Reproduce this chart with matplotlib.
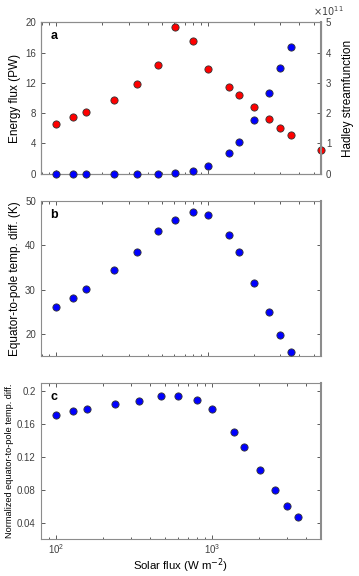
import numpy as np
import matplotlib
matplotlib.use("Agg")
import matplotlib.pyplot as plt
from matplotlib.ticker import LogLocator, NullFormatter

plt.rcParams['font.family'] = ['Liberation Sans', 'DejaVu Sans']

# --- data ---
solar = [100, 129, 158, 239, 338, 468, 602, 796, 1000, 1375, 1600, 2010, 2512, 2994, 3537]
solar_a_red = solar + [5560]

energy_flux = [6.6, 7.5, 8.15, 9.75, 11.85, 14.35, 19.35, 17.6, 13.8, 11.5, 10.45,
               8.8, 7.2, 6.0, 5.1, 3.1]            # PW (red)
hadley = [0.0, 0.0, 0.0, 0.0, 0.0, 0.0, 0.02, 0.09, 0.25, 0.69, 1.06,
          1.76, 2.65, 3.48, 4.18]                  # x1e11 (blue)
temp_diff = [26.0, 28.2, 30.2, 34.4, 38.4, 43.2, 45.7, 47.4, 46.7, 42.2, 38.4,
             31.5, 24.9, 19.8, 16.0]
norm_diff = [0.171, 0.1756, 0.1777, 0.1837, 0.1878, 0.1943, 0.1939, 0.1886, 0.1777,
             0.150, 0.132, 0.104, 0.079, 0.060, 0.047]

red = '#ff0000'
blue = '#0000ff'
edge = '#333333'
spine_c = '#8c8c8c'
tick_c = '#404040'
ms = 5.2

fig = plt.figure(figsize=(3.59, 5.76), dpi=100)
left, width = 0.1134, 0.781
ax_a = fig.add_axes([left, 0.6984, width, 0.2628])
ax_b = fig.add_axes([left, 0.3814, width, 0.2700])
ax_c = fig.add_axes([left, 0.0642, width, 0.2714])


def style(ax, right=True):
    ax.set_xscale('log')
    ax.xaxis.set_major_locator(LogLocator(base=10))
    ax.xaxis.set_minor_locator(LogLocator(base=10, subs=np.arange(2, 10)))
    ax.xaxis.set_minor_formatter(NullFormatter())
    ax.tick_params(which='both', direction='in', top=True, right=right,
                   labelsize=7, colors=tick_c, width=0.6)
    ax.tick_params(which='major', length=3)
    ax.tick_params(which='minor', length=1.8)
    for s in ax.spines.values():
        s.set_color(spine_c)
        s.set_linewidth(0.8)


# --- panel a ---
style(ax_a, right=False)
ax_a.plot(solar_a_red, energy_flux, 'o', color=red, mec=edge, mew=0.6, ms=ms,
          clip_on=False, zorder=3)
ax_a.set_xlim(79, 5560)
ax_a.set_ylim(0, 20)
ax_a.set_yticks([0, 4, 8, 12, 16, 20])
ax_a.set_xticklabels([])
ax_a.set_ylabel('Energy flux (PW)', fontsize=8.5, labelpad=3)
ax_a.text(0.035, 0.95, 'a', transform=ax_a.transAxes, fontsize=9,
          fontweight='bold', va='top')

ax_r = ax_a.twinx()
ax_r.plot(solar, hadley, 'o', color=blue, mec=edge, mew=0.6, ms=ms,
          clip_on=False, zorder=3)
ax_r.set_ylim(0, 5)
ax_r.set_yticks([0, 1, 2, 3, 4, 5])
ax_r.tick_params(direction='in', labelsize=7, colors=tick_c, width=0.6, length=3)
for s in ax_r.spines.values():
    s.set_color(spine_c)
    s.set_linewidth(0.8)
ax_r.spines['right'].set_linewidth(1.5)
ax_r.set_ylabel('Hadley streamfunction', fontsize=8.5, labelpad=8)
ax_r.text(0.97, 1.03, r'$\times10^{11}$', transform=ax_r.transAxes,
          fontsize=7, color=tick_c, ha='left', va='bottom')

# --- panel b ---
style(ax_b)
ax_b.plot(solar, temp_diff, 'o', color=blue, mec=edge, mew=0.6, ms=ms,
          clip_on=False, zorder=3)
ax_b.set_xlim(79, 5560)
ax_b.set_ylim(15, 50)
ax_b.set_yticks([20, 30, 40, 50])
ax_b.set_xticklabels([])
ax_b.spines['right'].set_linewidth(1.5)
ax_b.set_ylabel('Equator-to-pole temp. diff. (K)', fontsize=8.5, labelpad=3)
ax_b.text(0.035, 0.95, 'b', transform=ax_b.transAxes, fontsize=9,
          fontweight='bold', va='top')

# --- panel c ---
style(ax_c)
ax_c.plot(solar, norm_diff, 'o', color=blue, mec=edge, mew=0.6, ms=ms,
          clip_on=False, zorder=3)
ax_c.set_xlim(80, 4960)
ax_c.set_ylim(0.02, 0.21)
ax_c.set_yticks([0.04, 0.08, 0.12, 0.16, 0.2])
ax_c.set_yticklabels(['0.04', '0.08', '0.12', '0.16', '0.2'])
ax_c.spines['right'].set_linewidth(1.5)
ax_c.tick_params(axis='x', pad=2)
ax_c.set_ylabel('Normalized equator-to-pole temp. diff.', fontsize=6.6, labelpad=2)
ax_c.set_xlabel('Solar flux (W m$^{-2}$)', fontsize=8.2, labelpad=0.5)
ax_c.text(0.035, 0.95, 'c', transform=ax_c.transAxes, fontsize=9,
          fontweight='bold', va='top')

fig.savefig('out.png', dpi=100)
